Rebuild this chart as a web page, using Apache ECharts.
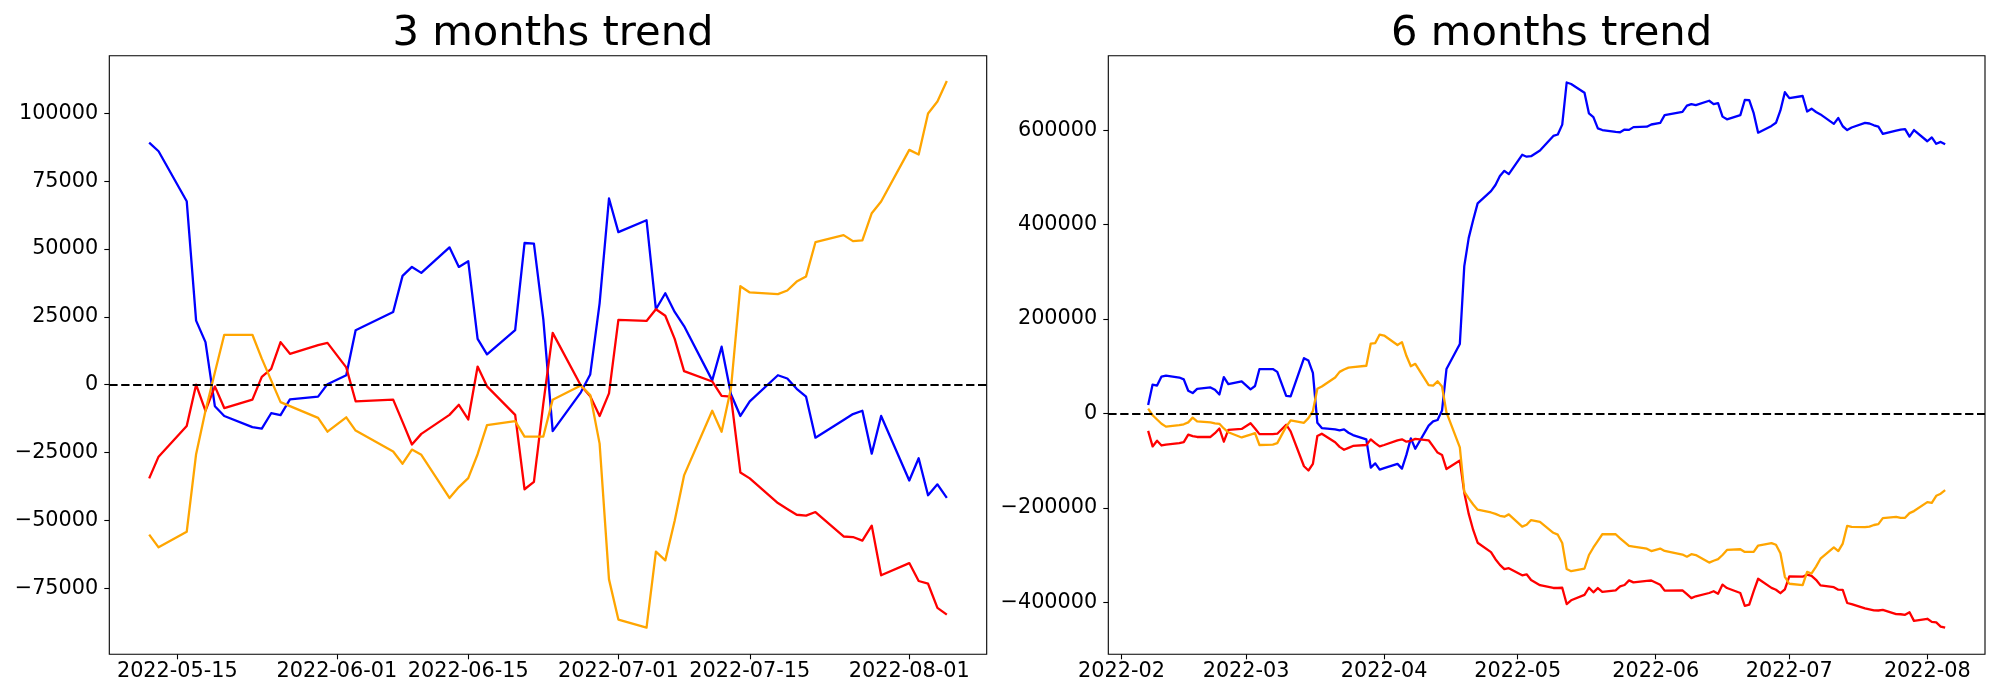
<!DOCTYPE html>
<html><head><meta charset="utf-8">
<script src="https://cdn.jsdelivr.net/npm/echarts@6/dist/echarts.min.js"></script>
<style>html,body{margin:0;padding:0;background:#fff}#c{width:2000px;height:700px}</style>
</head><body><div id="c"></div>
<script>
// ---- 3 months (left) ----
const dates3 = ['2022-05-12','2022-05-13','2022-05-16','2022-05-17','2022-05-18','2022-05-19','2022-05-20','2022-05-23','2022-05-24','2022-05-25','2022-05-26','2022-05-27','2022-05-30','2022-05-31','2022-06-02','2022-06-03','2022-06-07','2022-06-08','2022-06-09','2022-06-10','2022-06-13','2022-06-14','2022-06-15','2022-06-16','2022-06-17','2022-06-20','2022-06-21','2022-06-22','2022-06-23','2022-06-24','2022-06-27','2022-06-28','2022-06-29','2022-06-30','2022-07-01','2022-07-04','2022-07-05','2022-07-06','2022-07-07','2022-07-08','2022-07-11','2022-07-12','2022-07-13','2022-07-14','2022-07-15','2022-07-18','2022-07-19','2022-07-20','2022-07-21','2022-07-22','2022-07-25','2022-07-26','2022-07-27','2022-07-28','2022-07-29','2022-08-01','2022-08-02','2022-08-03','2022-08-04','2022-08-05'];
const blue3 = [89200,86000,67600,23600,15700,-7900,-11500,-15600,-16200,-10500,-11200,-5400,-4400,200,3500,20100,26800,40100,43400,41200,50600,43400,45500,16900,11200,20100,52200,52000,24200,-17100,-2800,3800,30000,68600,56200,60600,27800,33700,26800,21600,1600,14000,-3500,-11500,-6100,3500,2300,-1500,-4400,-19500,-13000,-10800,-9600,-25400,-11500,-35300,-27100,-40700,-36700,-41700];
const red3 = [-34500,-26500,-15200,0,-9600,-600,-8600,-5500,2900,5800,15700,11400,14600,15400,6400,-6100,-5500,-13700,-22000,-18100,-11100,-7400,-12800,6700,-600,-11100,-38500,-35800,-7000,19100,-300,-4200,-11500,-3200,23900,23500,27800,25400,16900,5000,1200,-4100,-4400,-32300,-34500,-43600,-45800,-47900,-48200,-46900,-55900,-56100,-57400,-51900,-70200,-65700,-72300,-73300,-82200,-84700];
const orange3 = [-55200,-59900,-54200,-25600,-9600,4500,18400,18400,9600,1600,-6400,-7900,-12200,-17300,-12000,-16900,-24600,-29100,-23900,-25800,-41700,-37700,-34400,-25600,-14900,-13400,-19100,-19100,-19100,-5500,-300,-3800,-21700,-71700,-86500,-89500,-61500,-64700,-50100,-33400,-9600,-17300,-1300,36300,34000,33400,34700,38000,39900,52500,55100,52900,53200,63200,67500,86500,84800,99900,104300,111900];

// ---- 6 months (right) ----
const dates6Early = ['2022-02-07','2022-02-08','2022-02-09','2022-02-10','2022-02-11','2022-02-14','2022-02-15','2022-02-16','2022-02-17','2022-02-18','2022-02-21','2022-02-22','2022-02-23','2022-02-24','2022-02-25','2022-02-28','2022-03-02','2022-03-03','2022-03-04','2022-03-07','2022-03-08','2022-03-10','2022-03-11','2022-03-14','2022-03-15','2022-03-16','2022-03-17','2022-03-18','2022-03-21','2022-03-22','2022-03-23','2022-03-24','2022-03-25','2022-03-28','2022-03-29','2022-03-30','2022-03-31','2022-04-01','2022-04-04','2022-04-05','2022-04-06','2022-04-07','2022-04-08','2022-04-11','2022-04-12','2022-04-13','2022-04-14','2022-04-15','2022-04-18','2022-04-19','2022-04-20','2022-04-21','2022-04-22','2022-04-25','2022-04-26','2022-04-27','2022-04-28','2022-04-29','2022-05-02','2022-05-03','2022-05-04','2022-05-06','2022-05-09','2022-05-10','2022-05-11'];
const dates6 = dates6Early.concat(dates3);
const blue6 = [18000,61000,59000,78000,80000,76000,72000,48000,43000,52000,55000,50000,40000,77000,62000,68000,51000,58000,94000,94000,88000,37000,36000,117000,112000,86000,-20000,-31000,-34000,-36000,-34000,-41000,-46000,-55000,-115000,-106000,-119000,-116000,-107000,-117000,-88000,-53000,-75000,-26000,-17000,-14000,6000,94000,147000,312000,372000,410000,445000,471000,484000,503000,514000,507000,548000,544000,545000,557000,588000,591000,612000,
  701200,698000,679600,635600,627700,604100,600500,596400,595800,601500,600800,606600,607600,612200,615500,632100,638800,652100,655400,653200,662600,655400,657500,628900,623200,632100,664200,664000,636200,594900,609200,615800,642000,680600,668200,672600,639800,645700,638800,633600,613600,626000,608500,600500,605900,615500,614300,610500,607600,592500,599000,601200,602400,586600,600500,576700,584900,571300,575300,570300];
const red6 = [-37000,-70000,-58000,-68000,-66000,-63000,-61000,-45000,-48000,-50000,-50000,-42000,-32000,-60000,-35000,-33000,-21000,-32000,-44000,-44000,-43000,-24000,-38000,-112000,-121000,-107000,-48000,-43000,-61000,-71000,-77000,-73000,-69000,-67000,-55000,-63000,-70000,-67000,-57000,-55000,-60000,-58000,-54000,-57000,-70000,-83000,-88000,-118000,-100000,-168000,-213000,-247000,-274000,-294000,-309000,-321000,-330000,-328000,-343000,-341000,-353000,-364000,-370000,-370000,-369500,
  -404000,-396000,-384700,-369500,-379100,-370100,-378100,-375000,-366600,-363700,-353800,-358100,-354900,-354100,-363100,-375600,-375000,-383200,-391500,-387600,-380600,-376900,-382300,-362800,-370100,-380600,-408000,-405300,-376500,-350400,-369800,-373700,-381000,-372700,-345600,-346000,-341700,-344100,-352600,-364500,-368300,-373600,-373900,-401800,-404000,-413100,-415300,-417400,-417700,-416400,-425400,-425600,-426900,-421400,-439700,-435200,-441800,-442800,-451700,-454200];
const orange6 = [10000,-4000,-13000,-22000,-28000,-25000,-23000,-19000,-9000,-17000,-19000,-21000,-22000,-32000,-40000,-51000,-45000,-42000,-67000,-66000,-63000,-28000,-15000,-20000,-10000,5000,52000,57000,76000,88000,93000,97000,98000,101000,148000,149000,167000,165000,145000,151000,122000,100000,105000,60000,59000,68000,57000,2000,-72000,-166000,-180000,-193000,-204000,-210000,-213000,-217000,-219000,-214000,-240000,-236000,-226000,-230000,-253000,-257000,-274500,
  -329700,-334400,-328700,-300100,-284100,-270000,-256100,-256100,-264900,-272900,-280900,-282400,-286700,-291800,-286500,-291400,-299100,-303600,-298400,-300300,-316200,-312200,-308900,-300100,-289400,-287900,-293600,-293600,-293600,-280000,-274800,-278300,-296200,-346200,-361000,-364000,-336000,-339200,-324600,-307900,-284100,-291800,-275800,-238200,-240500,-241100,-239800,-236500,-234600,-222000,-219400,-221600,-221300,-211300,-207000,-188000,-189700,-174600,-170200,-162600];

// ---- ticks / titles ----
const xTicks3 = ['2022-05-15','2022-06-01','2022-06-15','2022-07-01','2022-07-15','2022-08-01'];
const xTicks6 = ['2022-02-01','2022-03-01','2022-04-01','2022-05-01','2022-06-01','2022-07-01','2022-08-01'];
const yTicks3 = [-75000,-50000,-25000,0,25000,50000,75000,100000];
const yTicks6 = [-400000,-200000,0,200000,400000,600000];
const titles = ['3 months trend','6 months trend'];
const colors = ['#0000ff','#ff0000','#ffa500'];

const DAY = 86400000;
function ts(s){const p=s.split('-').map(Number);return Date.UTC(p[0],p[1]-1,p[2]);}
function pairs(d,v){return d.map((x,i)=>[ts(x),v[i]]);}
const FONT = 'DejaVu Sans';
const yFmt = v => v < 0 ? '\u2212' + Math.abs(v) : String(v);

const grids = [
  {left:109.3, top:55.7, width:877.4, height:598.6},
  {left:1108.3, top:55.7, width:876.7, height:598.6}
];
const xr = [
  [ts(dates3[0]) - 4.25*DAY, ts(dates3[dates3.length-1]) + 4.25*DAY],
  [ts(dates6[0]) - 8.95*DAY, ts(dates6[dates6.length-1]) + 8.95*DAY]
];
const yr = [[-99300,121200],[-510500,758000]];

function xAxis(i, ticks, fmt){
  const cv = ticks.map(ts);
  return {type:'value', gridIndex:i, min:xr[i][0], max:xr[i][1], position:'bottom',
    axisLine:{show:false, onZero:false}, splitLine:{show:false},
    axisTick:{show:true, length:5, customValues:cv, lineStyle:{color:'#000', width:1.1}},
    axisLabel:{show:true, customValues:cv, formatter:fmt, fontFamily:FONT, fontSize:20.8, color:'#000', margin:7}};
}
function yAxis(i, ticks){
  return {type:'value', gridIndex:i, min:yr[i][0], max:yr[i][1], position:'left',
    axisLine:{show:false, onZero:false}, splitLine:{show:false},
    axisTick:{show:true, length:5, customValues:ticks, lineStyle:{color:'#000', width:1.1}},
    axisLabel:{show:true, customValues:ticks, formatter:yFmt, fontFamily:FONT, fontSize:20.8, color:'#000', margin:11}};
}
function lineSeries(i, d, v, c, withZero){
  const s = {type:'line', xAxisIndex:i, yAxisIndex:i, data:pairs(d,v), showSymbol:false, symbol:'none',
    lineStyle:{color:c, width:2.3, join:'round'}, itemStyle:{color:c}, animation:false, silent:true};
  if (withZero) s.markLine = {silent:true, symbol:['none','none'], animation:false, label:{show:false},
    lineStyle:{color:'#000', type:[8.3,3.6], width:2.1}, data:[{yAxis:0}]};
  return s;
}

const chart = echarts.init(document.getElementById('c'), null, {renderer:'canvas', width:2000, height:700});
chart.setOption({
  backgroundColor:'#ffffff',
  animation:false,
  title:[
    {text:titles[0], left:548, top:8, textAlign:'center', textStyle:{fontFamily:FONT, fontSize:41.7, fontWeight:'normal', color:'#000'}},
    {text:titles[1], left:1546.6, top:8, textAlign:'center', textStyle:{fontFamily:FONT, fontSize:41.7, fontWeight:'normal', color:'#000'}}
  ],
  grid: grids.map(g => Object.assign({show:true, borderColor:'#000', borderWidth:1.1, backgroundColor:'transparent', outerBoundsMode:'none', containLabel:false}, g)),
  xAxis:[
    xAxis(0, xTicks3, v => new Date(v).toISOString().slice(0,10)),
    xAxis(1, xTicks6, v => new Date(v).toISOString().slice(0,7))
  ],
  yAxis:[yAxis(0, yTicks3), yAxis(1, yTicks6)],
  series:[
    lineSeries(0, dates3, blue3, colors[0], false),
    lineSeries(0, dates3, red3, colors[1], false),
    lineSeries(0, dates3, orange3, colors[2], true),
    lineSeries(1, dates6, blue6, colors[0], false),
    lineSeries(1, dates6, red6, colors[1], false),
    lineSeries(1, dates6, orange6, colors[2], true)
  ]
});
</script></body></html>
